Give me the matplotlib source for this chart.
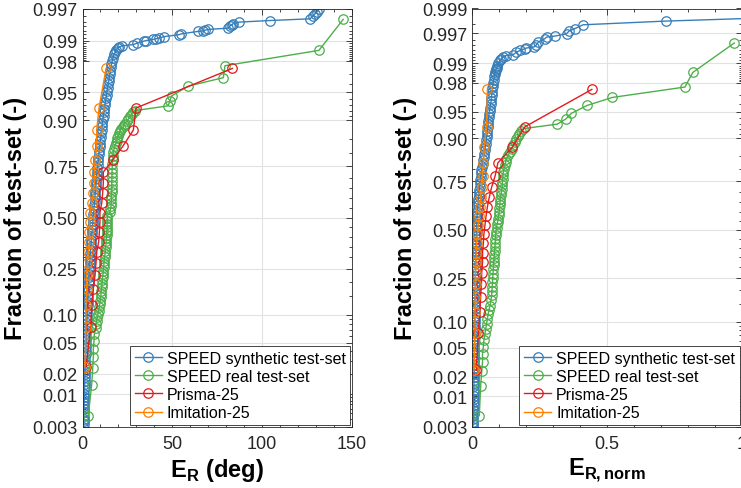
import math
import numpy as np
import matplotlib
matplotlib.use("Agg")
import matplotlib.pyplot as plt
from matplotlib.ticker import MultipleLocator, FixedLocator, FixedFormatter

plt.rcParams['font.family'] = ['Liberation Sans', 'DejaVu Sans']
plt.rcParams['mathtext.fontset'] = 'custom'
plt.rcParams['mathtext.rm'] = 'Liberation Sans'
plt.rcParams['mathtext.bf'] = 'Liberation Sans:bold'

## Data
labels = ['SPEED synthetic test-set', 'SPEED real test-set', 'Prisma-25', 'Imitation-25']
colors = ['#377eb8', '#4daf4a', '#e41a1c', '#ff7f00']

# synthetic set: dense band (probability, error) + sparse tail points
band_p = [0.0030, 0.0033, 0.0037, 0.0041, 0.0046, 0.0052, 0.0058, 0.0065, 0.0073, 0.0082,
          0.0092, 0.0103, 0.0115, 0.0128, 0.0143, 0.0160, 0.0178, 0.0198, 0.0220, 0.0244,
          0.0270, 0.0299, 0.0330, 0.0364, 0.0401, 0.0441, 0.0485, 0.0532, 0.0583, 0.0638,
          0.0697, 0.0760, 0.0828, 0.0900, 0.0977, 0.106, 0.115, 0.124, 0.134, 0.144,
          0.155, 0.166, 0.178, 0.190, 0.203, 0.216, 0.230, 0.244, 0.258, 0.273,
          0.288, 0.303, 0.319, 0.335, 0.351, 0.367, 0.384, 0.400, 0.417, 0.433,
          0.450, 0.467, 0.483, 0.500, 0.517, 0.533, 0.550, 0.567, 0.583, 0.600,
          0.616, 0.633, 0.649, 0.665, 0.681, 0.697, 0.712, 0.727, 0.742, 0.756,
          0.770, 0.784, 0.797, 0.810, 0.822, 0.834, 0.845, 0.856, 0.866, 0.876,
          0.885, 0.894, 0.902, 0.910, 0.917, 0.924, 0.930, 0.936, 0.942, 0.947,
          0.952, 0.956, 0.960, 0.964, 0.967, 0.970, 0.973, 0.976, 0.978, 0.980,
          0.982, 0.984, 0.985, 0.986, 0.987, 0.9875, 0.988]

synth_deg_band = [0.5, 0.6, 0.6, 0.7, 0.7, 0.8, 0.8, 0.9, 0.9, 1.0,
                  1.0, 1.1, 1.1, 1.2, 1.2, 1.3, 1.3, 1.4, 1.4, 1.5,
                  1.5, 1.6, 1.6, 1.7, 1.8, 1.8, 1.9, 2.0, 2.0, 2.1,
                  2.2, 2.3, 2.3, 2.4, 2.5, 2.6, 2.7, 2.8, 2.9, 3.0,
                  3.1, 3.2, 3.3, 3.4, 3.5, 3.6, 3.7, 3.8, 3.9, 4.0,
                  4.2, 4.3, 4.4, 4.5, 4.7, 4.8, 4.9, 5.1, 5.2, 5.4,
                  5.5, 5.7, 5.8, 6.0, 6.1, 6.3, 6.4, 6.6, 6.7, 6.9,
                  7.0, 7.2, 7.3, 7.5, 7.6, 7.8, 7.9, 8.1, 8.3, 8.5,
                  8.7, 8.9, 9.1, 9.3, 9.5, 9.7, 9.9, 10.1, 10.4, 10.6,
                  10.9, 11.1, 11.4, 11.7, 11.9, 12.2, 12.5, 12.8, 13.1, 13.4,
                  13.7, 14.0, 14.3, 14.6, 14.9, 15.2, 15.5, 15.8, 16.1, 16.5,
                  16.9, 17.5, 18.1, 18.8, 19.5, 20.5, 22.0]
synth_deg_tail = [28.3, 30.2, 34.2, 35.3, 39.4, 40.9, 42.7, 45.5, 53.9, 54.8, 64.4, 66.9, 68.2,
                  70.0, 81.1, 82.1, 83.0, 83.9, 87.3, 104.3, 126.6, 128.1, 129.4, 130.7, 131.8]
synth_deg_tail_p = [0.9885, 0.989, 0.9898, 0.99, 0.9904, 0.9906, 0.9909, 0.9913, 0.9919, 0.9921,
                    0.9928, 0.9929, 0.9931, 0.9933, 0.9936, 0.9941, 0.9943, 0.9946, 0.9949,
                    0.9952, 0.9955, 0.9959, 0.9963, 0.9966, 0.997]

synth_norm_band = [0.002, 0.003, 0.003, 0.003, 0.004, 0.004, 0.004, 0.004, 0.005, 0.005,
                   0.005, 0.005, 0.005, 0.006, 0.006, 0.006, 0.006, 0.006, 0.006, 0.007,
                   0.007, 0.007, 0.007, 0.007, 0.007, 0.008, 0.008, 0.008, 0.008, 0.008,
                   0.008, 0.008, 0.009, 0.009, 0.009, 0.009, 0.009, 0.009, 0.010, 0.010,
                   0.010, 0.010, 0.010, 0.010, 0.011, 0.011, 0.011, 0.011, 0.011, 0.012,
                   0.012, 0.012, 0.012, 0.013, 0.013, 0.013, 0.013, 0.014, 0.014, 0.014,
                   0.015, 0.015, 0.016, 0.016, 0.017, 0.016, 0.017, 0.017, 0.018, 0.019,
                   0.020, 0.021, 0.022, 0.023, 0.024, 0.025, 0.026, 0.027, 0.028, 0.030,
                   0.031, 0.033, 0.034, 0.036, 0.038, 0.040, 0.042, 0.044, 0.046, 0.048,
                   0.050, 0.052, 0.053, 0.055, 0.056, 0.058, 0.059, 0.060, 0.061, 0.062,
                   0.064, 0.066, 0.068, 0.070, 0.071, 0.072, 0.074, 0.075, 0.076, 0.078,
                   0.080, 0.082, 0.083, 0.085, 0.087, 0.088, 0.090]
synth_norm_tail = [0.093, 0.097, 0.103, 0.108, 0.115, 0.125,
                   0.152, 0.164, 0.179, 0.195, 0.201, 0.229, 0.236, 0.245, 0.269, 0.276,
                   0.306, 0.350, 0.359, 0.380, 0.411, 0.720, 1.25]
synth_norm_tail_p = [0.989, 0.990, 0.991, 0.9915, 0.992, 0.9925,
                     0.99274, 0.99347, 0.99386, 0.99427, 0.99443, 0.99465, 0.99497, 0.99562,
                     0.99618, 0.99644, 0.99658, 0.9969, 0.99724, 0.9975, 0.9979, 0.99822, 0.99855]

# real set
real_deg_p = [0.0045, 0.014, 0.0236, 0.033, 0.042, 0.052, 0.063, 0.074, 0.080, 0.087,
              0.0946, 0.102, 0.110, 0.119, 0.128, 0.137, 0.147, 0.157, 0.168, 0.180,
              0.192, 0.204, 0.216, 0.229, 0.242, 0.256, 0.270, 0.285, 0.300, 0.316,
              0.332, 0.348, 0.364, 0.380, 0.396, 0.410, 0.423, 0.437, 0.451, 0.466,
              0.480, 0.495, 0.510, 0.527, 0.543, 0.560, 0.577, 0.594, 0.612, 0.630,
              0.648, 0.666, 0.684, 0.702, 0.720, 0.740, 0.760, 0.779, 0.792, 0.805,
              0.817, 0.828, 0.836, 0.844, 0.852, 0.859, 0.866, 0.873, 0.878, 0.882,
              0.887, 0.891, 0.897, 0.902, 0.908, 0.913, 0.917, 0.920, 0.929, 0.938,
              0.945, 0.958, 0.967, 0.977, 0.986, 0.9954]
real_deg = [3.2, 5.1, 5.7, 6.0, 6.0, 6.4, 6.6, 7.3, 7.6, 7.9,
            8.2, 8.6, 9.0, 9.4, 9.6, 9.9, 10.1, 10.3, 10.5, 10.7,
            10.9, 11.0, 11.2, 11.4, 11.6, 11.8, 11.9, 12.1, 12.3, 12.5,
            12.7, 12.9, 13.1, 13.2, 13.3, 13.4, 13.5, 13.6, 13.7, 13.7,
            13.8, 13.8, 13.9, 15.3, 15.5, 15.9, 16.0, 16.1, 16.1, 16.2,
            16.3, 16.3, 16.3, 16.4, 16.4, 16.5, 16.6, 16.8, 17.0, 17.1,
            17.6, 18.1, 18.6, 19.0, 19.4, 19.9, 20.4, 20.9, 21.6, 22.4,
            23.0, 23.7, 24.6, 25.5, 26.4, 27.4, 28.3, 29.2, 47.7, 48.7,
            49.6, 58.9, 78.4, 79.3, 131.6, 145.1]

real_norm_p = [0.0047, 0.0145, 0.024, 0.032, 0.0416, 0.0507, 0.061, 0.073, 0.083, 0.0946,
               0.107, 0.120, 0.132, 0.145, 0.162, 0.180, 0.196, 0.214, 0.232, 0.250,
               0.270, 0.293, 0.310, 0.326, 0.345, 0.365, 0.385, 0.405, 0.427, 0.450,
               0.470, 0.490, 0.510, 0.530, 0.545, 0.561, 0.580, 0.600, 0.617, 0.633,
               0.650, 0.667, 0.684, 0.700, 0.716, 0.732, 0.747, 0.762, 0.777, 0.790,
               0.803, 0.816, 0.828, 0.840, 0.851, 0.861, 0.871, 0.881, 0.890, 0.898,
               0.905, 0.910, 0.916, 0.921, 0.930, 0.939, 0.948, 0.9587, 0.9677, 0.9769,
               0.986, 0.99544]
real_norm = [0.026, 0.031, 0.035, 0.038, 0.038, 0.041, 0.043, 0.047, 0.050, 0.053,
             0.056, 0.059, 0.062, 0.066, 0.069, 0.072, 0.073, 0.074, 0.075, 0.076,
             0.077, 0.078, 0.079, 0.080, 0.081, 0.082, 0.083, 0.084, 0.085, 0.086,
             0.087, 0.088, 0.090, 0.092, 0.094, 0.096, 0.098, 0.100, 0.101, 0.102,
             0.103, 0.104, 0.106, 0.108, 0.110, 0.111, 0.112, 0.113, 0.114, 0.115,
             0.118, 0.121, 0.124, 0.127, 0.133, 0.140, 0.146, 0.152, 0.158, 0.163,
             0.169, 0.174, 0.181, 0.189, 0.316, 0.347, 0.368, 0.426, 0.520, 0.790,
             0.819, 0.973]

# 20 sorted errors each for the two 25-series
prisma_deg = [2.0, 4.5, 5.1, 6.0, 7.0, 7.5, 7.9, 9.0, 9.4, 9.7,
              9.7, 10.7, 11.2, 11.6, 11.6, 16.8, 22.4, 28.3, 29.8, 83.4]
imitation_deg = [1.4, 1.9, 1.9, 2.3, 2.3, 2.7, 3.2, 3.8, 3.8, 3.9,
                 4.2, 5.1, 6.0, 6.6, 6.6, 7.0, 7.9, 7.9, 9.2, 13.1]
prisma_norm = [0.015, 0.022, 0.028, 0.031, 0.034, 0.035, 0.038, 0.038, 0.041, 0.043,
               0.047, 0.051, 0.056, 0.063, 0.072, 0.085, 0.095, 0.148, 0.196, 0.444]
imitation_norm = [0.006, 0.010, 0.010, 0.011, 0.012, 0.012, 0.014, 0.014, 0.016, 0.019,
                  0.022, 0.026, 0.029, 0.031, 0.035, 0.038, 0.041, 0.044, 0.053, 0.056]

prob_ticks = [0.003, 0.01, 0.02, 0.05, 0.10, 0.25, 0.50, 0.75, 0.90, 0.95, 0.98, 0.99, 0.997, 0.999]
prob_labels = ['0.003', '0.01', '0.02', '0.05', '0.10', '0.25', '0.50', '0.75', '0.90', '0.95',
               '0.98', '0.99', '0.997', '0.999']


## normal probability scale
A = [-3.969683028665376e+01, 2.209460984245205e+02, -2.759285104469687e+02,
     1.383577518672690e+02, -3.066479806614716e+01, 2.506628277459239e+00]
B = [-5.447609879822406e+01, 1.615858368580409e+02, -1.556989798598866e+02,
     6.680131188771972e+01, -1.328068155288572e+01]
C = [-7.784894002430293e-03, -3.223964580411365e-01, -2.400758277161838e+00,
     -2.549732539343734e+00, 4.374664141464968e+00, 2.938163982698783e+00]
D = [7.784695709041462e-03, 3.224671290700398e-01, 2.445134137142996e+00, 3.754408661907416e+00]


def ppf(p):
    p = np.clip(np.asarray(p, dtype=float), 1e-10, 1 - 1e-10)
    q = p - 0.5
    r = q * q
    mid = (((((A[0]*r + A[1])*r + A[2])*r + A[3])*r + A[4])*r + A[5])*q / \
          (((((B[0]*r + B[1])*r + B[2])*r + B[3])*r + B[4])*r + 1)
    ql = np.sqrt(-2 * np.log(p))
    low = (((((C[0]*ql + C[1])*ql + C[2])*ql + C[3])*ql + C[4])*ql + C[5]) / \
          ((((D[0]*ql + D[1])*ql + D[2])*ql + D[3])*ql + 1)
    qh = np.sqrt(-2 * np.log(1 - p))
    high = -(((((C[0]*qh + C[1])*qh + C[2])*qh + C[3])*qh + C[4])*qh + C[5]) / \
           ((((D[0]*qh + D[1])*qh + D[2])*qh + D[3])*qh + 1)
    return np.where(p < 0.02425, low, np.where(p > 1 - 0.02425, high, mid))


_erf = np.vectorize(math.erf, otypes=[float])


def cdf(z):
    z = np.asarray(z, dtype=float)
    return 0.5 * (1 + _erf(z / math.sqrt(2)))


def ranks(n):
    return [(i - 0.5) / n for i in range(1, n + 1)]


minor_p = ([0.004, 0.005, 0.006, 0.007, 0.008, 0.009, 0.03, 0.04, 0.06, 0.07, 0.08, 0.09,
            0.15, 0.2, 0.3, 0.35, 0.4, 0.45, 0.55, 0.6, 0.65, 0.7, 0.8, 0.85,
            0.91, 0.92, 0.93, 0.94, 0.96, 0.97, 0.981, 0.982, 0.983, 0.984, 0.985,
            0.986, 0.987, 0.988, 0.989, 0.991, 0.992, 0.993, 0.994, 0.995, 0.996, 0.998])


def style(ax, ytop, xlim, xticks, xticklabels, xminor, xlabel):
    ax.set_yscale('function', functions=(ppf, cdf))
    ax.set_ylim(0.003, ytop)
    ax.set_xlim(*xlim)
    n = prob_ticks.index(ytop) + 1
    ax.yaxis.set_major_locator(FixedLocator(prob_ticks[:n]))
    ax.yaxis.set_major_formatter(FixedFormatter(prob_labels[:n]))
    ax.yaxis.set_minor_locator(FixedLocator([m for m in minor_p if m < ytop]))
    ax.set_xticks(xticks)
    ax.set_xticklabels(xticklabels)
    ax.xaxis.set_minor_locator(MultipleLocator(xminor))
    ax.tick_params(which='both', direction='in', top=True, right=True, colors='#262626',
                   labelsize=13, width=0.6)
    ax.tick_params(which='major', length=4)
    ax.tick_params(which='minor', length=2.2)
    ax.tick_params(axis='x', pad=6)
    ax.grid(True, which='major', color='#e2e2e2', lw=0.8)
    ax.set_axisbelow(True)
    for s in ax.spines.values():
        s.set_color('#262626')
        s.set_linewidth(0.6)
    ax.set_ylabel('Fraction of test-set (-)', fontsize=17, fontweight='bold', labelpad=4)
    ax.set_xlabel(xlabel, fontsize=17, fontweight='bold', labelpad=3)


def draw(ax, series):
    for (x, p), lab, col in zip(series, labels, colors):
        ax.plot(x, p, '-o', color=col, mfc='none', mec=col, ms=6.8, mew=0.9, lw=1.0, label=lab)
    leg = ax.legend(loc='lower right', fontsize=11.5, fancybox=False, framealpha=1,
                    edgecolor='#262626', borderpad=0.3, labelspacing=0.2, handlelength=1.7,
                    handletextpad=0.3, borderaxespad=0.1)
    leg.get_frame().set_linewidth(0.6)


fig = plt.figure(figsize=(7.41, 4.89), dpi=100)
ax1 = fig.add_axes([82.5 / 741, 1 - 427.5 / 489, 269.5 / 741, 418 / 489])
ax2 = fig.add_axes([472.3 / 741, 1 - 427.5 / 489, 269.2 / 741, 418 / 489])

draw(ax1, [(synth_deg_band + synth_deg_tail, band_p + synth_deg_tail_p),
           (real_deg, real_deg_p),
           (prisma_deg, ranks(len(prisma_deg))),
           (imitation_deg, ranks(len(imitation_deg)))])
style(ax1, 0.997, (0, 150), [0, 50, 100, 150], ['0', '50', '100', '150'], 10,
      r'$\mathbf{E}_{\mathbf{R}}$ (deg)')

draw(ax2, [(synth_norm_band + synth_norm_tail, band_p + synth_norm_tail_p),
           (real_norm, real_norm_p),
           (prisma_norm, ranks(len(prisma_norm))),
           (imitation_norm, ranks(len(imitation_norm)))])
style(ax2, 0.999, (0, 1), [0, 0.5, 1], ['0', '0.5', '1'], 0.1,
      r'$\mathbf{E}_{\mathbf{R,norm}}$')

fig.savefig('out.png', dpi=100)
